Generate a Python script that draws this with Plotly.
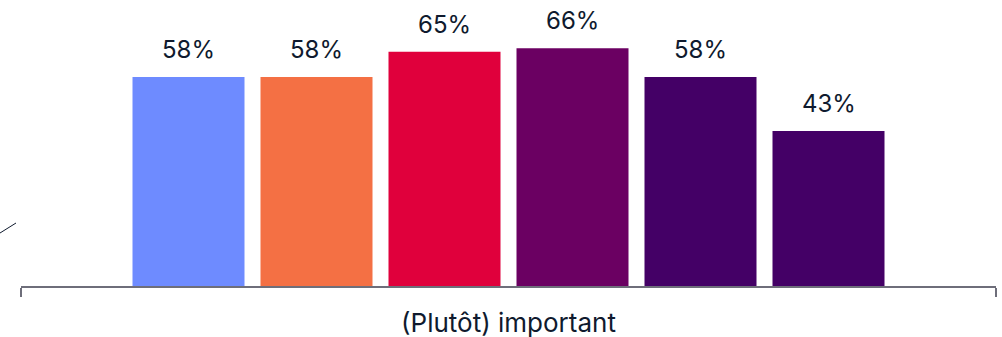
import plotly.graph_objects as go

category = ["(Plutôt) important"]
series_names = ["S1", "S2", "S3", "S4", "S5", "S6"]
values = [58, 58, 65, 66, 58, 43]
colors = ["#6e8bff", "#f47044", "#e0003c", "#6b0062", "#440066", "#440066"]

W, H = 1002, 337
ml, mr, mt, mb = 21, 6, 0, 51
plot_w = W - ml - mr
bargap = 0.2123
bargroupgap = 0.125
slot_px = (1 - bargap) * plot_w / len(values)

fig = go.Figure()
for name, v, c in zip(series_names, values, colors):
    fig.add_trace(go.Bar(x=category, y=[v], name=name, marker=dict(color=c, line=dict(width=0)),
                         hoverinfo="skip"))

n = len(values)
for i, v in enumerate(values):
    fig.add_annotation(x=category[0], y=v, text=f"{v}%", showarrow=False,
                       xshift=(i - (n - 1) / 2) * slot_px, yanchor="bottom", yshift=11,
                       font=dict(family="Inter", size=24, color="#0f1a2e"))

fig.add_shape(type="line", xref="paper", yref="paper",
              x0=(0 - ml) / plot_w, x1=(16 - ml) / plot_w,
              y0=(H - mb - 233) / (H - mt - mb), y1=(H - mb - 223) / (H - mt - mb),
              line=dict(color="#0f1a2e", width=1))

fig.update_layout(
    width=W, height=H, margin=dict(l=ml, r=mr, t=mt, b=mb),
    barmode="group", bargap=bargap, bargroupgap=bargroupgap,
    paper_bgcolor="white", plot_bgcolor="white", showlegend=False,
    font=dict(family="Inter", color="#0f1a2e"),
    xaxis=dict(range=[-0.5, 0.5], showline=True, linecolor="#6e6e7a", linewidth=2,
               ticks="outside", tickson="boundaries", ticklen=9, tickwidth=2, tickcolor="#6e6e7a",
               ticklabelstandoff=13, automargin=False,
               tickfont=dict(family="Inter", size=26, color="#0f1a2e"), showgrid=False),
    yaxis=dict(range=[0, 79.4], visible=False, showgrid=False, zeroline=False),
)

fig.write_html("out.html", config={"displayModeBar": False},
               post_script="document.body.style.margin='0';document.body.style.overflow='hidden';")
